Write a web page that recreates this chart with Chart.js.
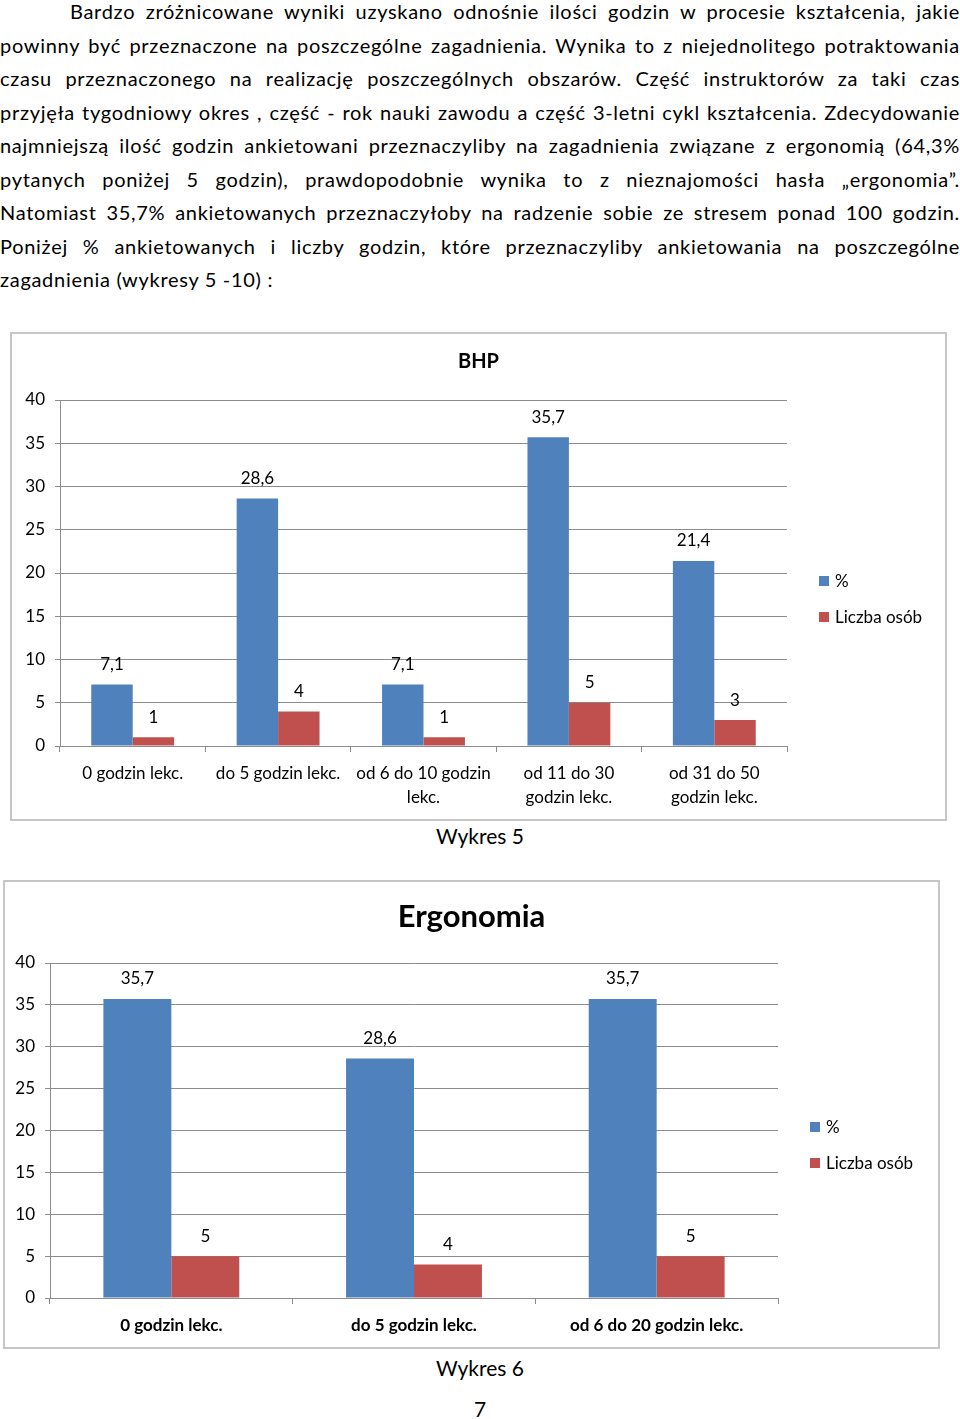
<!DOCTYPE html>
<html lang="pl">
<head>
<meta charset="utf-8">
<script src="https://cdn.jsdelivr.net/npm/chart.js@4/dist/chart.umd.min.js"></script>
<style>
    html, body { margin: 0; padding: 0; background: #fff; }
    body { position: relative; width: 960px; height: 1419px; overflow: hidden; font-family: Lato, 'Open Sans', sans-serif; color: #000; }
    .text { position: absolute; left: 0; top: -5px; width: 960px; font-size: 20px; line-height: 33.5px; letter-spacing: 0.7px; }
    .text div { text-align: justify; text-align-last: justify; }
    .text div.first { text-indent: 70px; }
    .text div.last { text-align-last: left; }
    .box { position: absolute; border: 2px solid #c6c6c6; box-sizing: border-box; }
    .box .wrap { position: absolute; left: 0; top: 0; right: 0; bottom: 0; }
    .legend { position: absolute; font-size: 17px; }
    .legend div { position: relative; height: 36px; line-height: 20px; padding-left: 16px; }
    .legend span { position: absolute; left: 0; top: 5px; width: 10px; height: 10px; }
    .caption { position: absolute; left: 0; width: 960px; text-align: center; font-size: 21px; }
</style>
</head>
<body>

<div class="text">
    <div class="first">Bardzo zróżnicowane wyniki uzyskano odnośnie ilości godzin w procesie kształcenia, jakie</div>
    <div>powinny być przeznaczone na poszczególne zagadnienia. Wynika to z niejednolitego potraktowania</div>
    <div>czasu przeznaczonego na realizację poszczególnych obszarów. Część instruktorów za taki czas</div>
    <div>przyjęła tygodniowy okres , część - rok nauki zawodu a część 3-letni cykl kształcenia. Zdecydowanie</div>
    <div>najmniejszą ilość godzin ankietowani przeznaczyliby na zagadnienia związane z ergonomią (64,3%</div>
    <div>pytanych poniżej 5 godzin), prawdopodobnie wynika to z nieznajomości hasła „ergonomia”.</div>
    <div>Natomiast 35,7% ankietowanych przeznaczyłoby na radzenie sobie ze stresem ponad 100 godzin.</div>
    <div>Poniżej % ankietowanych i liczby godzin, które przeznaczyliby ankietowania na poszczególne</div>
    <div class="last">zagadnienia (wykresy 5 -10) :</div>
</div>

<div class="box" style="left:10px; top:332px; width:937px; height:489px;">
    <div class="wrap"><canvas id="bhpChart"></canvas></div>
</div>
<div class="legend" style="left:819px; top:571px;">
    <div><span style="background:#4f81bd"></span>%</div>
    <div><span style="background:#c0504d"></span>Liczba osób</div>
</div>
<div class="caption" style="top:823px;">Wykres 5</div>

<div class="box" style="left:3px; top:880px; width:937px; height:469px;">
    <div class="wrap"><canvas id="ergoChart"></canvas></div>
</div>
<div class="legend" style="left:810px; top:1117px;">
    <div><span style="background:#4f81bd"></span>%</div>
    <div><span style="background:#c0504d"></span>Liczba osób</div>
</div>
<div class="caption" style="top:1355px;">Wykres 6</div>
<div class="caption" style="top:1396px;">7</div>

<script>
// Wykres 5 - BHP
const bhpLabels = [['0 godzin lekc.'], ['do 5 godzin lekc.'], ['od 6 do 10 godzin', 'lekc.'], ['od 11 do 30', 'godzin lekc.'], ['od 31 do 50', 'godzin lekc.']];
const bhpPercent = [7.1, 28.6, 7.1, 35.7, 21.4];
const bhpPeople = [1, 4, 1, 5, 3];

// Wykres 6 - Ergonomia
const ergoLabels = ['0 godzin lekc.', 'do 5 godzin lekc.', 'od 6 do 20 godzin lekc.'];
const ergoPercent = [35.7, 28.6, 35.7];
const ergoPeople = [5, 4, 5];

const seriesNames = ['%', 'Liczba osób'];
const yMin = 0, yMax = 40, yStep = 5;

const BLUE = '#4f81bd';
const RED = '#c0504d';
const GRID = '#8c8c8c';
const FONT = "Lato, 'Open Sans', sans-serif";

// values above bars, with decimal comma
const valueLabels = {
    id: 'valueLabels',
    afterDatasetsDraw(chart) {
        const ctx = chart.ctx;
        ctx.save();
        ctx.font = '17px ' + FONT;
        ctx.fillStyle = '#000';
        ctx.textAlign = 'center';
        ctx.textBaseline = 'middle';
        chart.data.datasets.forEach((ds, i) => {
            chart.getDatasetMeta(i).data.forEach((bar, j) => {
                ctx.fillText(String(ds.data[j]).replace('.', ','), bar.x, bar.y - 20);
            });
        });
        ctx.restore();
    }
};

// title centred on the whole chart box (legend side included)
const boxTitle = {
    id: 'boxTitle',
    afterDraw(chart, args, opts) {
        const ctx = chart.ctx;
        ctx.save();
        ctx.font = 'bold ' + opts.size + 'px ' + FONT;
        ctx.fillStyle = '#000';
        ctx.textAlign = 'center';
        ctx.textBaseline = 'middle';
        ctx.fillText(opts.text, chart.width / 2, opts.y);
        ctx.restore();
    }
};

function makeChart(id, labels, percent, people, opts) {
    const ctx = document.getElementById(id).getContext('2d');
    return new Chart(ctx, {
        type: 'bar',
        data: {
            labels: labels,
            datasets: [
                { label: seriesNames[0], data: percent, backgroundColor: BLUE, categoryPercentage: opts.catPct, barPercentage: 1 },
                { label: seriesNames[1], data: people, backgroundColor: RED, categoryPercentage: opts.catPct, barPercentage: 1 }
            ]
        },
        plugins: [valueLabels, boxTitle],
        options: {
            responsive: true,
            maintainAspectRatio: false,
            animation: false,
            layout: { padding: { left: 0, right: opts.padRight, top: opts.padTop, bottom: 0 } },
            plugins: {
                legend: { display: false },
                tooltip: { enabled: false },
                title: { display: false },
                boxTitle: { text: opts.title, size: opts.titleSize, y: opts.titleY }
            },
            scales: {
                x: {
                    grid: { display: true, offset: true, drawOnChartArea: false, drawTicks: true, tickLength: 6, color: GRID },
                    border: { display: true, color: GRID, width: 1 },
                    ticks: {
                        color: '#000',
                        font: { family: FONT, size: 17, weight: opts.catBold ? 'bold' : 'normal', lineHeight: 1.4 },
                        padding: 10,
                        maxRotation: 0,
                        minRotation: 0,
                        autoSkip: false
                    },
                    afterFit(scale) { scale.height = opts.xHeight; }
                },
                y: {
                    min: yMin,
                    max: yMax,
                    grid: { color: GRID, drawTicks: true, tickLength: 5 },
                    border: { display: true, color: GRID, width: 1 },
                    ticks: {
                        stepSize: yStep,
                        color: '#000',
                        font: { family: FONT, size: 17 },
                        padding: 10
                    },
                    afterFit(scale) { scale.width = opts.yWidth; }
                }
            }
        }
    });
}

makeChart('bhpChart', bhpLabels, bhpPercent, bhpPeople, {
    title: 'BHP', titleSize: 20, titleY: 28, padTop: 66,
    catPct: 0.57, padRight: 158, yWidth: 48, xHeight: 73, catBold: false
});

makeChart('ergoChart', ergoLabels, ergoPercent, ergoPeople, {
    title: 'Ergonomia', titleSize: 31, titleY: 35, padTop: 81,
    catPct: 0.56, padRight: 160, yWidth: 45, xHeight: 49, catBold: true
});
</script>
</body>
</html>
